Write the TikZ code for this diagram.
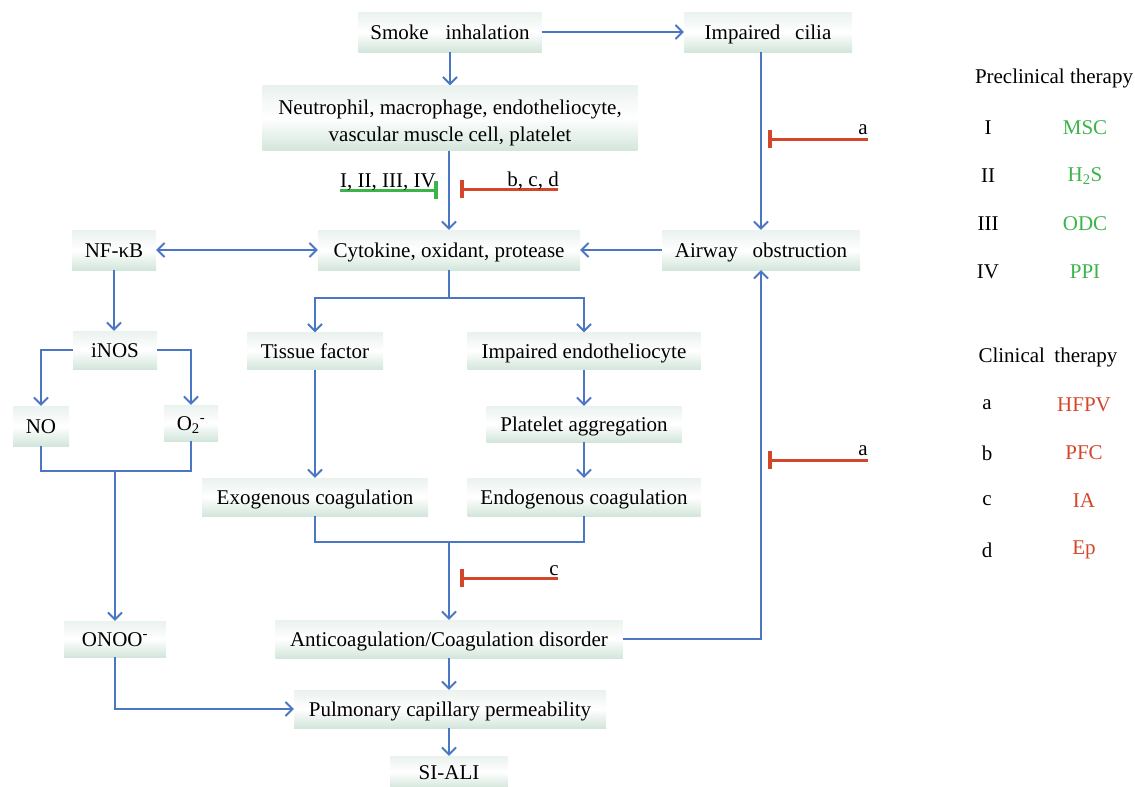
\documentclass[tikz,border=0pt]{standalone}
\usepackage{fontspec}
\setmainfont{Liberation Serif}
\usetikzlibrary{arrows.meta}
\definecolor{lblue}{HTML}{4A76C4}
\definecolor{ired}{HTML}{D4462A}
\definecolor{igreen}{HTML}{3BB54A}
\definecolor{btop}{HTML}{EAF2EE}
\definecolor{bbot}{HTML}{D3E6DB}
\begin{document}
\begin{tikzpicture}[x=1pt,y=-1pt,
  txt/.style={font=\fontsize{21}{24}\selectfont},
  box/.style={txt,top color=btop,bottom color=bbot,middle color=white,inner sep=0pt,align=center,text height=17pt,text depth=2pt},
  plain/.style={draw=lblue,line width=1.9pt},
  conn/.style={plain,-{Straight Barb[length=7pt,width=14pt]}},
  both/.style={plain,{Straight Barb[length=7pt,width=14pt]}-{Straight Barb[length=7pt,width=14pt]}},
  inhr/.style={draw=ired,line width=3pt,-{Bar[width=18pt,line width=4pt]}},
  inhg/.style={draw=igreen,line width=3pt,-{Bar[width=18pt,line width=4pt]}},
  lab/.style={txt,inner sep=0pt,anchor=base east},
  leg/.style={txt,inner sep=0pt}]
\useasboundingbox (0,0) rectangle (1135,787);

% boxes
\node[box,minimum width=183pt,minimum height=40pt] (smoke) at (450,32) {Smoke\hspace{0.8em}inhalation};
\node[box,minimum width=168pt,minimum height=40pt] (cilia) at (768,32) {Impaired\hspace{0.7em}cilia};
\node[box,minimum width=375pt,minimum height=65pt,font=\fontsize{21}{26.5}\selectfont,text height=46pt,text depth=0pt] (neut) at (450,118) {Neutrophil, macrophage, endotheliocyte,\\vascular muscle cell, platelet};
\node[box,minimum width=262pt,minimum height=40pt] (cyto) at (449,250) {Cytokine, oxidant, protease};
\node[box,minimum width=84pt,minimum height=40pt] (nfkb) at (114,250) {NF-κB};
\node[box,minimum width=198pt,minimum height=40pt] (airway) at (761,250) {Airway\hspace{0.7em}obstruction};
\node[box,minimum width=84pt,minimum height=38pt] (inos) at (115,350) {iNOS};
\node[box,minimum width=56pt,minimum height=40pt] (no) at (41,426) {NO};
\node[box,minimum width=54pt,minimum height=36pt] (o2) at (191,423) {O\textsubscript{2}\textsuperscript{-}};
\node[box,minimum width=136pt,minimum height=37pt] (tissue) at (315,351) {Tissue factor};
\node[box,minimum width=233pt,minimum height=37pt] (impendo) at (584,351) {Impaired endotheliocyte};
\node[box,minimum width=195pt,minimum height=36pt] (plat) at (584,424) {Platelet aggregation};
\node[box,minimum width=226pt,minimum height=38pt] (exo) at (315,497) {Exogenous coagulation};
\node[box,minimum width=233pt,minimum height=38pt] (endo) at (584,497) {Endogenous coagulation};
\node[box,minimum width=102pt,minimum height=36pt] (onoo) at (115,639) {ONOO\textsuperscript{-}};
\node[box,minimum width=347pt,minimum height=38pt] (anti) at (449,639) {Anticoagulation/Coagulation disorder};
\node[box,minimum width=312pt,minimum height=38pt] (pulm) at (450,709) {Pulmonary capillary permeability};
\node[box,minimum width=118pt,minimum height=32pt] (siali) at (449,772) {SI-ALI};

% junctions
\coordinate (m1) at (115,471);
\coordinate (m2) at (449,298);
\coordinate (m3) at (449,542);

% connectors
\draw[conn] (smoke.east) -- (smoke.east -| cilia.west);
\draw[conn] (smoke.south) -- (smoke.south |- neut.north);
\draw[conn] (cyto.north |- neut.south) -- (cyto.north);
\draw[conn] (cilia.south -| airway.north) -- (airway.north);
\draw[conn] (airway.west) -- (cyto.east);
\draw[both] (nfkb.east) -- (cyto.west);
\draw[conn] (nfkb.south) -- (nfkb.south |- inos.north);
\draw[conn] (inos.west) -| (no.north);
\draw[conn] (inos.east) -| (o2.north);
\draw[plain] (no.south) |- (m1) -| (o2.south);
\draw[conn] (m1) -- (m1 |- onoo.north);
\draw[plain] (cyto.south) -- (m2);
\draw[conn] (m2) -| (tissue.north);
\draw[conn] (m2) -| (impendo.north);
\draw[conn] (tissue) -- (exo);
\draw[conn] (impendo) -- (plat);
\draw[conn] (plat) -- (endo);
\draw[plain] (exo.south) |- (m3) -| (endo.south);
\draw[conn] (m3) -- (anti.north);
\draw[conn] (anti.east) -| (airway.south);
\draw[conn] (onoo.south) |- (pulm.west);
\draw[conn] (anti.south) -- (anti.south |- pulm.north);
\draw[conn] (siali.north |- pulm.south) -- (siali.north);

% inhibitors
\coordinate (g1s) at (340,190); \coordinate (g1e) at (438,190);
\draw[inhg] (g1s) -- (g1e);
\node[lab] (g1l) at (436,187) {I, II, III, IV};
\coordinate (r1s) at (558,189); \coordinate (r1e) at (460,189);
\draw[inhr] (r1s) -- (r1e);
\node[lab] (r1l) at (559,186) {b, c, d};
\coordinate (r2s) at (868,139); \coordinate (r2e) at (768,139);
\draw[inhr] (r2s) -- (r2e);
\node[lab] (r2l) at (868,134) {a};
\coordinate (r3s) at (868,460); \coordinate (r3e) at (768,460);
\draw[inhr] (r3s) -- (r3e);
\node[lab] (r3l) at (868,455) {a};
\coordinate (r4s) at (558,578); \coordinate (r4e) at (460,578);
\draw[inhr] (r4s) -- (r4e);
\node[lab] (r4l) at (559,575) {c};

% legend
\node[leg] (pre) at (1054,78) {Preclinical therapy};
\node[leg] (p1) at (988,128) {I};
\node[leg,text=igreen] (p1t) at (1085,128) {MSC};
\node[leg] (p2) at (988,176) {II};
\node[leg,text=igreen] (p2t) at (1085,176) {H\textsubscript{2}S};
\node[leg] (p3) at (988,224) {III};
\node[leg,text=igreen] (p3t) at (1085,224) {ODC};
\node[leg] (p4) at (988,272) {IV};
\node[leg,text=igreen] (p4t) at (1085,272) {PPI};
\node[leg] (cli) at (1048,357) {Clinical\hspace{0.45em}therapy};
\node[leg] (c1) at (987,405) {a};
\node[leg,text=ired] (c1t) at (1084,405) {HFPV};
\node[leg] (c2) at (987,453) {b};
\node[leg,text=ired] (c2t) at (1084,453) {PFC};
\node[leg] (c3) at (987,501) {c};
\node[leg,text=ired] (c3t) at (1084,501) {IA};
\node[leg] (c4) at (987,550) {d};
\node[leg,text=ired] (c4t) at (1084,550) {Ep};
\end{tikzpicture}
\end{document}
